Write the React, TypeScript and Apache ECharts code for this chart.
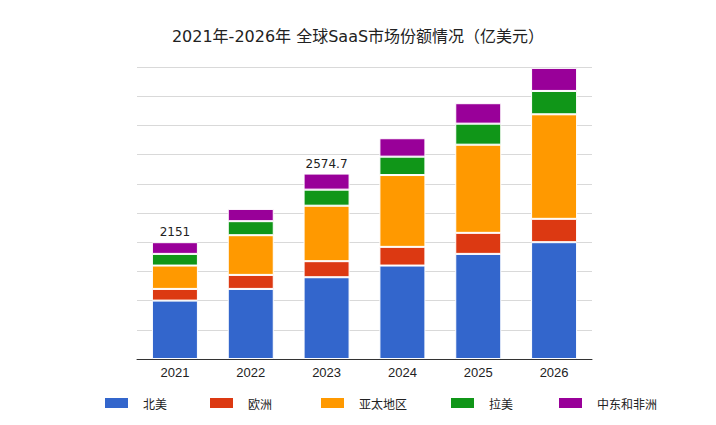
import React, { useEffect, useRef } from "react";
import * as echarts from "echarts";

const categories = ["2021", "2022", "2023", "2024", "2025", "2026"];
const northAmerica = [1000, 1200, 1400, 1600, 1800, 2000];
const europe = [200, 240, 275, 320, 360, 400];
const asiaPacific = [400, 680, 950, 1230, 1510, 1790];
const latinAmerica = [200, 240, 275, 315, 360, 400];
const middleEastAfrica = [200, 210, 275, 315, 350, 395];
const totalLabels = ["2151", "", "2574.7", "", "", ""];

const seriesNames = ["北美", "欧洲", "亚太地区", "拉美", "中东和非洲"];
const seriesData = [northAmerica, europe, asiaPacific, latinAmerica, middleEastAfrica];
const colors = ["#3366CC", "#DC3912", "#FF9900", "#109618", "#990099"];
const legendLefts = [103, 208, 319, 449, 557];

export default function App() {
  const ref = useRef<HTMLDivElement>(null);
  useEffect(() => {
    if (!ref.current) return;
    const chart = echarts.init(ref.current, undefined, { renderer: "svg" });
    const series = seriesNames.map((name, i) => ({
      name,
      type: "bar",
      stack: "total",
      data: seriesData[i],
      barWidth: 46,
      itemStyle: { color: colors[i], borderColor: "#fff", borderWidth: 1 },
      label:
        i === seriesNames.length - 1
          ? {
              show: true,
              position: "top",
              distance: 4,
              color: "#222",
              fontSize: 12,
              fontFamily: "DejaVu Sans",
              formatter: (p: any) => totalLabels[p.dataIndex],
            }
          : { show: false },
    }));
    chart.setOption({
      animation: false,
      color: colors,
      title: {
        text: "2021年-2026年 全球SaaS市场份额情况（亿美元）",
        left: "center",
        top: 28,
        padding: 0,
        textStyle: {
          fontSize: 16,
          fontWeight: "normal",
          color: "#222",
          fontFamily: "DejaVu Sans, Noto Sans CJK SC",
        },
      },
      legend: seriesNames.map((name, i) => ({
        data: [name],
        left: legendLefts[i],
        top: 396,
        padding: 0,
        itemWidth: 25,
        itemHeight: 12,
        icon: "rect",
        selectedMode: false,
        formatter: "{t|{name}}",
        textStyle: {
          fontSize: 12,
          color: "#222",
          fontFamily: "Noto Sans CJK SC",
          rich: {
            t: {
              fontSize: 12,
              color: "#222",
              fontFamily: "Noto Sans CJK SC",
              padding: [0, 0, 0, 9],
            },
          },
        },
      })),
      grid: { left: 137, right: 124, top: 67, bottom: 66 },
      xAxis: {
        type: "category",
        data: categories,
        axisTick: { show: false },
        axisLine: { lineStyle: { color: "#333", width: 1 } },
        axisLabel: {
          color: "#222",
          fontSize: 13,
          margin: 7,
          fontFamily: "Liberation Sans",
        },
      },
      yAxis: {
        type: "value",
        min: 0,
        max: 5000,
        interval: 500,
        axisLabel: { show: false },
        axisLine: { show: false },
        axisTick: { show: false },
        splitLine: { lineStyle: { color: "#d9d9d9", width: 1 } },
      },
      series,
    });
    return () => chart.dispose();
  }, []);
  return (
    <div
      ref={ref}
      style={{ position: "fixed", left: 0, top: 0, width: 716, height: 425, background: "#fff" }}
    />
  );
}
